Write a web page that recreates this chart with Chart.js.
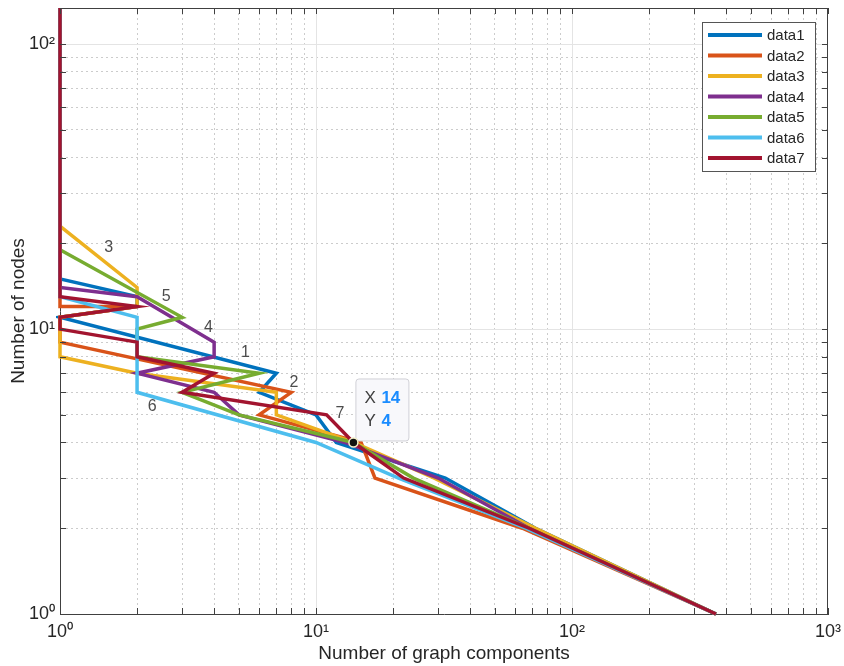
<!DOCTYPE html>
<html>
<head>
<meta charset="utf-8">
<script src="https://cdn.jsdelivr.net/npm/chart.js@4.4.1/dist/chart.umd.min.js"></script>
<style>
  html, body { margin: 0; padding: 0; background: #fff; }
</style>
</head>
<body>
<canvas id="myChart" width="844" height="666"></canvas>
<script>
// series: [components, nodes]
const seriesNames = ['data1', 'data2', 'data3', 'data4', 'data5', 'data6', 'data7'];
const data1 = [[1,134],[1,15],[2,13],[2,12],[1,11],[7,7],[6,6],[10,5],[12,4],[32,3],[72,2],[365,1]];
const data2 = [[1,134],[1,12],[2,12],[1,11],[1,9],[8,6],[6,5],[15,4],[17,3],[64,2],[365,1]];
const data3 = [[1,134],[1,23],[2,14],[2,12],[1,11],[1,8],[2,7],[7,6],[7,5],[14,4],[29,3],[72,2],[365,1]];
const data4 = [[1,134],[1,14],[2,13],[4,9],[4,8],[2,7],[4,6],[5,5],[13,4],[30,3],[68,2],[365,1]];
const data5 = [[1,134],[1,19],[3,11],[2,10],[2,8],[6,7],[3,6],[5,5],[14,4],[24,3],[68,2],[365,1]];
const data6 = [[1,134],[1,13],[2,11],[2,6],[10,4],[21,3],[66,2],[365,1]];
const data7 = [[1,134],[1,13],[2,12],[1,11],[1,10],[2,9],[2,8],[4,7],[3,6],[11,5],[14,4],[22,3],[68,2],[365,1]];

const xTickValues = [1,2,3,4,5,6,7,8,9,10,20,30,40,50,60,70,80,90,100,200,300,400,500,600,700,800,900,1000];
const yTickValues = [1,2,3,4,5,6,7,8,9,10,20,30,40,50,60,70,80,90,100];
const tickText = {1: '10\u2070', 10: '10\u00b9', 100: '10\u00b2', 1000: '10\u00b3'};

// curve number labels and the datatip
const curveLabels = [['3',1.55,19.3],['5',2.6,13],['4',3.8,10.1],['1',5.3,8.3],['2',8.2,6.5],['6',2.29,5.35],['7',12.4,5.07]];
const tipPoint = [14, 4];

const colors = ['#0072BD', '#D95319', '#EDB120', '#7E2F8E', '#77AC30', '#4DBEEE', '#A2142F'];
const allSeries = [data1, data2, data3, data4, data5, data6, data7];

const isMajor = v => Math.abs(Math.log10(v) - Math.round(Math.log10(v))) < 1e-9;
const FONT = "'Liberation Sans', Arial, sans-serif";
const AXIS = '#404040';

Chart.defaults.font.family = FONT;
Chart.defaults.color = '#262626';

const noPad = s => { s.paddingLeft = 0; s.paddingRight = 0; s.paddingTop = 0; s.paddingBottom = 0; };

const matlabFrame = {
  id: 'matlabFrame',
  beforeDatasetsDraw(chart) {
    const {ctx, chartArea: a, scales: {x, y}} = chart;
    ctx.save();
    ctx.strokeStyle = '#e4e4e4';
    ctx.lineWidth = 1;
    ctx.beginPath();
    [10, 100].forEach(v => {
      const px = Math.round(x.getPixelForValue(v)) + 0.5;
      ctx.moveTo(px, a.top); ctx.lineTo(px, a.bottom);
    });
    [10, 100].forEach(v => {
      const py = Math.round(y.getPixelForValue(v)) + 0.5;
      ctx.moveTo(a.left, py); ctx.lineTo(a.right, py);
    });
    ctx.stroke();
    ctx.restore();
  },
  afterDatasetsDraw(chart) {
    const {ctx, chartArea: a, scales: {x, y}} = chart;
    ctx.save();
    // box + inner ticks
    ctx.strokeStyle = AXIS;
    ctx.lineWidth = 1;
    ctx.beginPath();
    ctx.moveTo(a.left, a.top + 0.5); ctx.lineTo(a.right, a.top + 0.5);
    ctx.moveTo(a.right - 0.5, a.top); ctx.lineTo(a.right - 0.5, a.bottom);
    xTickValues.forEach(v => {
      const px = Math.round(x.getPixelForValue(v)) + 0.5;
      ctx.moveTo(px, a.bottom); ctx.lineTo(px, a.bottom - 6);
      ctx.moveTo(px, a.top); ctx.lineTo(px, a.top + 6);
    });
    yTickValues.forEach(v => {
      const py = Math.round(y.getPixelForValue(v)) + 0.5;
      ctx.moveTo(a.left, py); ctx.lineTo(a.left + 6, py);
      ctx.moveTo(a.right, py); ctx.lineTo(a.right - 6, py);
    });
    ctx.stroke();

    // curve numbers
    ctx.fillStyle = '#4d4d4d';
    ctx.font = '16px ' + FONT;
    ctx.textAlign = 'center';
    ctx.textBaseline = 'middle';
    curveLabels.forEach(([t, vx, vy]) => {
      ctx.fillText(t, x.getPixelForValue(vx), y.getPixelForValue(vy));
    });

    // datatip
    const dx = x.getPixelForValue(tipPoint[0]);
    const dy = y.getPixelForValue(tipPoint[1]);
    const bx = dx + 2, by = dy - 64, bw = 53, bh = 62;
    ctx.fillStyle = '#f8f8fb';
    ctx.strokeStyle = '#d0d0d6';
    ctx.beginPath();
    ctx.roundRect(bx + 0.5, by + 0.5, bw, bh, 3);
    ctx.fill(); ctx.stroke();
    ctx.textAlign = 'left';
    ctx.fillStyle = '#404040';
    ctx.font = '17px ' + FONT;
    ctx.fillText('X', bx + 9, by + 20);
    ctx.fillText('Y', bx + 9, by + 43);
    ctx.fillStyle = '#1a8cff';
    ctx.font = 'bold 17px ' + FONT;
    ctx.fillText(String(tipPoint[0]), bx + 26, by + 20);
    ctx.fillText(String(tipPoint[1]), bx + 26, by + 43);
    ctx.beginPath();
    ctx.arc(dx, dy, 4.5, 0, Math.PI * 2);
    ctx.fillStyle = '#111';
    ctx.fill();
    ctx.lineWidth = 1.5;
    ctx.strokeStyle = '#f4f0c8';
    ctx.stroke();

    // legend
    const lx = a.right - 126, ly = a.top + 14, lw = 113, lh = 149;
    ctx.fillStyle = '#fff';
    ctx.strokeStyle = '#555';
    ctx.lineWidth = 1;
    ctx.fillRect(lx, ly, lw, lh);
    ctx.strokeRect(lx + 0.5, ly + 0.5, lw, lh);
    ctx.font = '15px ' + FONT;
    ctx.textBaseline = 'middle';
    chart.data.datasets.forEach((ds, i) => {
      const rowY = ly + 13 + i * 20.5;
      ctx.strokeStyle = ds.borderColor;
      ctx.lineWidth = 4;
      ctx.beginPath();
      ctx.moveTo(lx + 6, rowY); ctx.lineTo(lx + 60, rowY);
      ctx.stroke();
      ctx.fillStyle = '#262626';
      ctx.fillText(ds.label, lx + 65, rowY + 1);
    });
    ctx.restore();
  }
};

const ctx = document.getElementById('myChart').getContext('2d');
const myChart = new Chart(ctx, {
  type: 'line',
  data: {
    datasets: allSeries.map((s, i) => ({
      label: seriesNames[i],
      data: s.map(p => ({x: p[0], y: p[1]})),
      borderColor: colors[i],
      backgroundColor: colors[i],
      borderWidth: 3.5,
      pointRadius: 0,
      tension: 0,
      fill: false,
      clip: 4,
      order: allSeries.length - i
    }))
  },
  options: {
    responsive: false,
    animation: false,
    events: [],
    devicePixelRatio: 1,
    layout: { padding: { left: 0, right: 16, top: 8, bottom: 0 } },
    scales: {
      x: {
        type: 'logarithmic',
        min: 1,
        max: 1000,
        afterBuildTicks: s => { s.ticks = xTickValues.map(v => ({value: v})); },
        afterFit: s => { s.height = 52; noPad(s); },
        grid: {
          color: c => (c.tick && isMajor(c.tick.value)) ? 'rgba(0,0,0,0)' : '#cccccc',
          drawTicks: false
        },
        border: { color: AXIS, width: 1, dash: [2, 3] },
        ticks: {
          autoSkip: false,
          maxRotation: 0,
          padding: 7,
          font: { size: 18 },
          color: '#262626',
          callback: v => tickText[v] || ''
        },
        title: {
          display: true,
          text: 'Number of graph components',
          font: { size: 19 },
          color: '#262626',
          padding: { top: 0, bottom: 1 }
        }
      },
      y: {
        type: 'logarithmic',
        min: 1,
        max: 134,
        afterBuildTicks: s => { s.ticks = yTickValues.map(v => ({value: v})); },
        afterFit: s => { s.width = 60; noPad(s); },
        grid: {
          color: c => (c.tick && isMajor(c.tick.value)) ? 'rgba(0,0,0,0)' : '#cccccc',
          drawTicks: false
        },
        border: { color: AXIS, width: 1, dash: [2, 3] },
        ticks: {
          autoSkip: false,
          padding: 5,
          font: { size: 18 },
          color: '#262626',
          callback: v => tickText[v] || ''
        },
        title: {
          display: true,
          text: 'Number of nodes',
          font: { size: 19 },
          color: '#262626',
          padding: { top: 7, bottom: 0 }
        }
      }
    },
    plugins: {
      legend: { display: false },
      tooltip: { enabled: false }
    }
  },
  plugins: [matlabFrame]
});
</script>
</body>
</html>
